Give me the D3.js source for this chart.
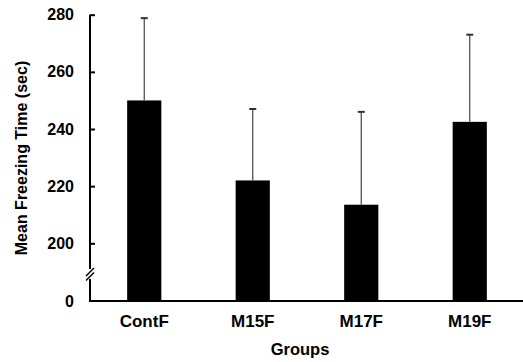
<!DOCTYPE html>
<html>
<head>
<meta charset="utf-8">
<script src="https://cdn.jsdelivr.net/npm/d3@7"></script>
<style>
  body { margin: 0; background: #fff; }
  text { font-family: "Liberation Sans", Arial, sans-serif; font-weight: bold; }
</style>
</head>
<body>
<div id="chart-area"></div>
<script>
// data
var groups = ["ContF", "M15F", "M17F", "M19F"];
var meanTimes = [250, 222, 213.5, 242.5];
var errTops = [278.8, 247, 246, 273];
var yTicks = [200, 220, 240, 260, 280];

var width = 523, height = 362;
var axisX = 90, baseY = 301;

var svg = d3.select("#chart-area")
  .append("svg")
  .attr("width", width)
  .attr("height", height);

// scales (y axis is broken between 0 and 200)
var x = d3.scaleBand()
  .domain(groups)
  .range([axisX, width + 1])
  .paddingInner(0.685)
  .paddingOuter(0.3425);

var y = d3.scaleLinear().domain([200, 280]).range([243.3, 14.7]);
var yLow = d3.scaleLinear().domain([0, 200]).range([baseY, 243.3]);

// bars
svg.selectAll(".bar")
  .data(groups)
  .enter().append("rect")
  .attr("class", "bar")
  .attr("x", function(d) { return x(d); })
  .attr("width", x.bandwidth())
  .attr("y", function(d, i) { return y(meanTimes[i]); })
  .attr("height", function(d, i) { return baseY - y(meanTimes[i]); })
  .attr("fill", "#000");

// error bars (upper only)
var err = svg.selectAll(".err")
  .data(groups)
  .enter().append("g")
  .attr("class", "err")
  .attr("transform", function(d) { return "translate(" + (x(d) + x.bandwidth() / 2) + ",0)"; });
err.append("line")
  .attr("y1", function(d, i) { return y(meanTimes[i]); })
  .attr("y2", function(d, i) { return y(errTops[i]); })
  .attr("stroke", "#444")
  .attr("stroke-width", 1.2);
err.append("line")
  .attr("x1", -3.5).attr("x2", 3.5)
  .attr("y1", function(d, i) { return y(errTops[i]); })
  .attr("y2", function(d, i) { return y(errTops[i]); })
  .attr("stroke", "#333")
  .attr("stroke-width", 2);

// y axis, upper part
var yAxis = svg.append("g")
  .attr("transform", "translate(" + axisX + ",0)")
  .call(d3.axisLeft(y).tickValues(yTicks).tickSizeInner(-5).tickSizeOuter(0).tickPadding(16));
// y axis, lower part (just 0)
var yAxisLow = svg.append("g")
  .attr("transform", "translate(" + axisX + ",0)")
  .call(d3.axisLeft(yLow).tickValues([0]).tickSize(0).tickPadding(16));

[yAxis, yAxisLow].forEach(function(a) {
  a.selectAll("path, line").attr("stroke", "#000").attr("stroke-width", 2);
  a.selectAll("text").attr("font-size", "16px").attr("fill", "#000");
});
yAxis.select(".domain").attr("d", "M0," + y(280) + "V269");
yAxisLow.select(".domain").attr("d", "M0,279V" + baseY);

// break marks
svg.append("g")
  .selectAll("line")
  .data([0, 4.5])
  .enter().append("line")
  .attr("x1", axisX - 4).attr("x2", axisX + 4)
  .attr("y1", function(d) { return 276 + d; })
  .attr("y2", function(d) { return 268 + d; })
  .attr("stroke", "#000")
  .attr("stroke-width", 1.5);

// x axis
var xAxis = svg.append("g")
  .attr("transform", "translate(0," + baseY + ")")
  .call(d3.axisBottom(x).tickSize(0).tickPadding(14));
xAxis.select(".domain").attr("d", "M" + (axisX - 1) + ",0H" + width).attr("stroke", "#000").attr("stroke-width", 2);
xAxis.selectAll("text").attr("font-size", "17px").attr("fill", "#000");

// labels
svg.append("text")
  .attr("x", 300)
  .attr("y", 355)
  .attr("text-anchor", "middle")
  .attr("font-size", "16.5px")
  .text("Groups");

svg.append("text")
  .attr("transform", "rotate(-90)")
  .attr("x", -158)
  .attr("y", 27)
  .attr("text-anchor", "middle")
  .attr("font-size", "16px")
  .text("Mean Freezing Time (sec)");
</script>
</body>
</html>
